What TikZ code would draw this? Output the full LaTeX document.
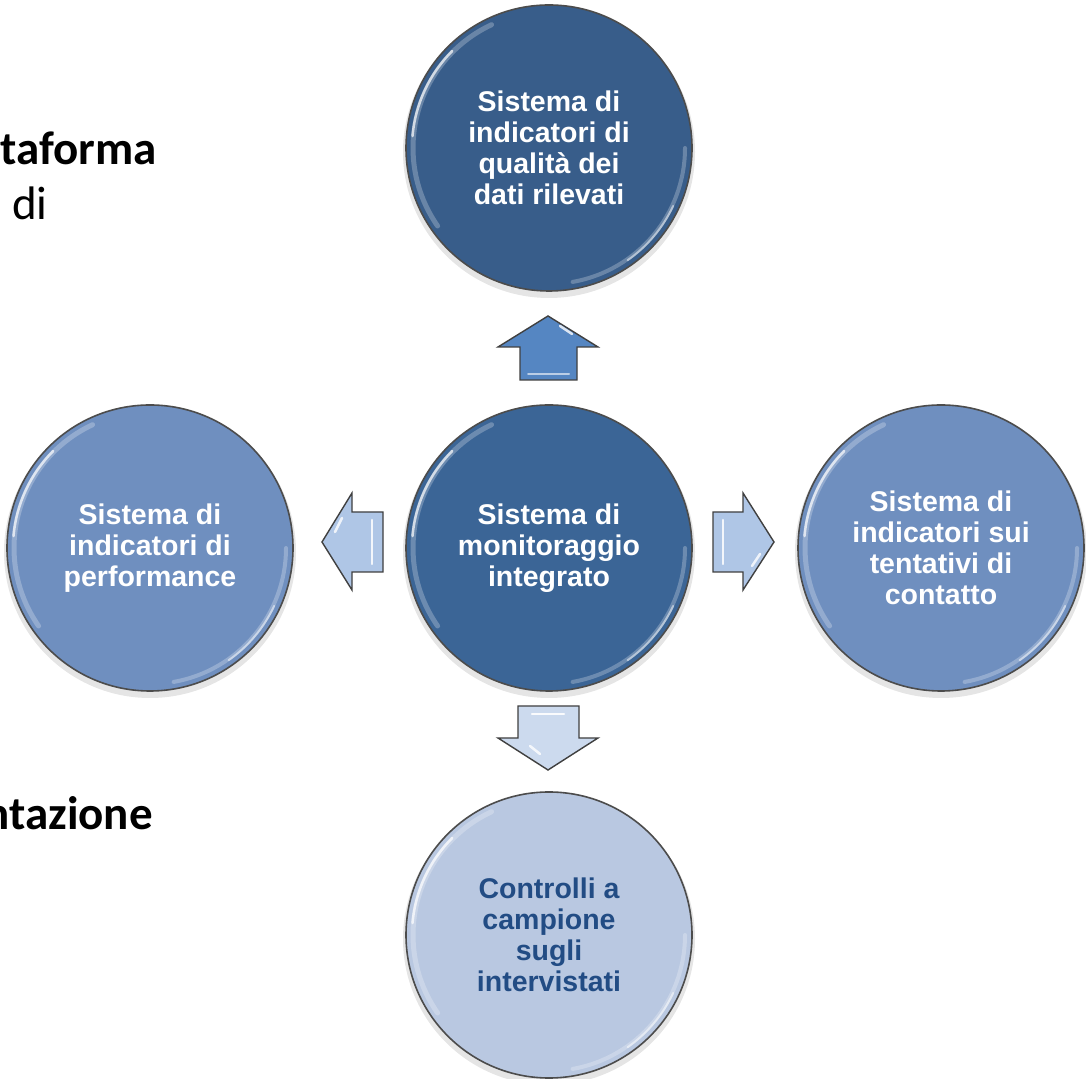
\documentclass[tikz,border=0pt]{standalone}
\usepackage{fontspec}
\setmainfont{Liberation Sans}
\newfontfamily\bubblefont{Liberation Sans}
\newfontfamily\calib{Carlito}
\definecolor{ctop}{HTML}{385D8A}
\definecolor{ccen}{HTML}{3B6596}
\definecolor{cside}{HTML}{6F8FBF}
\definecolor{cbot}{HTML}{B9C8E1}
\definecolor{tbot}{HTML}{224C84}
\definecolor{aup}{HTML}{5586C2}
\definecolor{aside}{HTML}{AFC6E6}
\definecolor{adown}{HTML}{CCDAEE}
\tikzset{
  bubble/.style={circle, minimum size=286pt, inner sep=0pt, draw=black!70, line width=1.6pt,
    align=center, text=white, font=\bubblefont\bfseries\fontsize{28.5}{31}\selectfont},
  blockarrow/.style={draw=black!75, line width=1.4pt, line join=miter},
  gloss/.style={white, line cap=round},
  sidetext/.style={font=\calib\fontsize{47}{55}\selectfont, inner sep=0pt}
}
\begin{document}
\begin{tikzpicture}[x=1pt,y=1pt]
\useasboundingbox (0,0) rectangle (1086,1078);
\clip (0,0) rectangle (1086,1078);
\fill[white] (0,0) rectangle (1086,1078);

% soft shadows
\foreach \cx/\cy in {549/930,549/530,150/530,941/530,549/143}{
  \fill[black, opacity=.10] (\cx,\cy-4) circle (146pt);
}

% circles
\node[bubble, fill=ctop] (top) at (549,930) {Sistema di\\indicatori di\\qualità dei\\dati rilevati};
\node[bubble, fill=ccen] (cen) at (549,530) {Sistema di\\monitoraggio\\integrato};
\node[bubble, fill=cside] (lft) at (150,530) {Sistema di\\indicatori di\\performance};
\node[bubble, fill=cside] (rgt) at (941,530) {Sistema di\\indicatori sui\\tentativi di\\contatto};
\node[bubble, fill=cbot, text=tbot] (bot) at (549,143) {Controlli a\\campione\\sugli\\intervistati};

% gloss on circles
\foreach \n in {top,cen,lft,rgt,bot}{
  \draw[gloss, line width=5pt, opacity=.25] (\n.center) ++(115:136pt) arc (115:215:136pt);
  \draw[gloss, line width=2.5pt, opacity=.7] (\n.center) ++(135:137pt) arc (135:175:137pt);
  \draw[gloss, line width=4pt, opacity=.25] (\n.center) ++(-80:136pt) arc (-80:0:136pt);
  \draw[gloss, line width=2pt, opacity=.5] (\n.center) ++(-55:137pt) arc (-55:-25:137pt);
}

% block arrows
\draw[blockarrow, fill=aup] (520,698) -- (520,731) -- (498,731) -- (548,762) -- (598,731) -- (577,731) -- (577,698) -- cycle;
\draw[gloss, line width=2.5pt, opacity=.8] (560,752) -- (572,744);
\draw[gloss, line width=2pt, opacity=.6] (528,704) -- (569,704);

\draw[blockarrow, fill=adown] (518,372) -- (518,340) -- (498,340) -- (548,308) -- (598,340) -- (579,340) -- (579,372) -- cycle;
\draw[gloss, line width=2.5pt, opacity=.9] (532,364) -- (564,364);
\draw[gloss, line width=2.5pt, opacity=.8] (530,332) -- (540,324);

\draw[blockarrow, fill=aside] (383,566) -- (352,566) -- (352,585) -- (322,536) -- (352,488) -- (352,506) -- (383,506) -- cycle;
\draw[gloss, line width=2.5pt, opacity=.85] (372,558) -- (372,514);
\draw[gloss, line width=2.5pt, opacity=.8] (342,560) -- (335,546);

\draw[blockarrow, fill=aside] (713,566) -- (743,566) -- (743,585) -- (774,536) -- (743,488) -- (743,506) -- (713,506) -- cycle;
\draw[gloss, line width=2.5pt, opacity=.85] (723,558) -- (723,514);
\draw[gloss, line width=2.5pt, opacity=.8] (752,512) -- (760,524);

% partially visible side texts
\node[sidetext, anchor=base east] (t1) at (157,913) {\bfseries taforma};
\node[sidetext, anchor=base west] (t2) at (12,858) {di};
\node[sidetext, anchor=base east] (t3) at (153,248) {\bfseries ntazione};
\end{tikzpicture}
\end{document}
